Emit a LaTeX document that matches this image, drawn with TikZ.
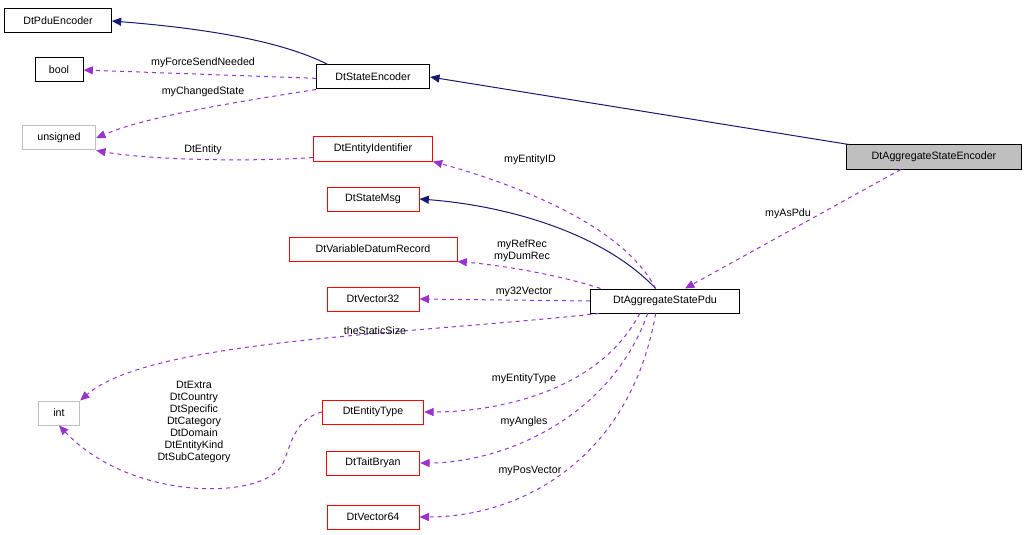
\documentclass[tikz,border=0pt]{standalone}
\usepackage{fontspec}
\setmainfont{Liberation Sans}
\definecolor{inh}{RGB}{25,25,112}
\definecolor{use}{RGB}{154,50,205}
\definecolor{redb}{RGB}{255,0,0}
\definecolor{grayb}{RGB}{191,191,191}
\tikzset{every picture/.style={line width=0.75pt}}
\tikzset{
  cls/.style={draw=black,fill=white,inner sep=0pt,minimum height=18pt,font=\fontsize{8}{9}\selectfont},
  ext/.style={cls,draw=redb},
  prim/.style={cls,draw=grayb},
  inherit/.style={draw=inh,-{Triangle[length=7pt,width=6pt]}},
  member/.style={draw=use,dashed,-{Triangle[length=7pt,width=6pt]}},
  lbl/.style={font=\fontsize{8}{9}\selectfont,inner sep=0pt,align=center}
}
\usetikzlibrary{arrows.meta}
\begin{document}
\begin{tikzpicture}[x=0.75pt,y=0.75pt,yscale=-1,xscale=1]
\useasboundingbox (0,0) rectangle (1029,535);

% classes
\node[cls,minimum width=80pt] (pduenc) at (58,21) {DtPduEncoder};
\node[cls,minimum width=36pt] (bool) at (59,70) {bool};
\node[prim,minimum width=55pt] (unsgn) at (59,138) {unsigned};
\node[prim,minimum width=31pt] (int) at (59,413) {int};
\node[cls,minimum width=85pt] (stenc) at (373,77) {DtStateEncoder};
\node[ext,minimum width=89pt] (entid) at (373,149) {DtEntityIdentifier};
\node[ext,minimum width=69pt] (stmsg) at (373,199) {DtStateMsg};
\node[ext,minimum width=126pt] (vdr) at (373,249) {DtVariableDatumRecord};
\node[ext,minimum width=69pt] (vec32) at (373,299) {DtVector32};
\node[ext,minimum width=76pt] (enttype) at (373,412) {DtEntityType};
\node[ext,minimum width=70pt] (tait) at (373,463) {DtTaitBryan};
\node[ext,minimum width=69pt] (vec64) at (373,517) {DtVector64};
\node[cls,fill=grayb,minimum width=131pt] (aggenc) at (934,157) {DtAggregateStateEncoder};
\node[cls,minimum width=112pt] (aggpdu) at (665,301) {DtAggregateStatePdu};

% inheritance
\draw[inherit] ([xshift=9pt]stenc.north west) .. controls (280,40) and (200,28) .. (pduenc.east);
\draw[inherit] ([xshift=2pt]aggenc.north west) -- (stenc.east);
\draw[inherit] ([xshift=-7pt]aggpdu.north) .. controls (600,230) and (500,205) .. (stmsg.east);

% members
\draw[member] ([yshift=1pt]stenc.west) -- (bool.east);
\draw[member] (stenc.south west) .. controls (250,100) and (150,115) .. (unsgn.east);
\draw[member] ([yshift=-3pt]entid.south west) .. controls (250,162) and (150,160) .. (unsgn.south east);
\draw[member] ([xshift=-7pt]aggpdu.north) .. controls (620,220) and (500,180) .. (entid.south east);
\draw[member] ([xshift=8pt]aggpdu.north west) .. controls (560,275) and (500,265) .. (vdr.south east);
\draw[member] (aggpdu.west) -- (vec32.east);
\draw[member] ([xshift=7pt]aggpdu.south west) .. controls (400,335) and (150,340) .. (int.north east);
\draw[member] ([xshift=-19pt]aggpdu.south) .. controls (600,390) and (500,412) .. (enttype.east);
\draw[member] ([xshift=-13pt]aggpdu.south) .. controls (610,420) and (500,463) .. (tait.east);
\draw[member] ([xshift=-7pt]aggpdu.south) .. controls (630,460) and (520,517) .. (vec64.east);
\draw[member] (enttype.west) .. controls (290,420) and (290,455) .. (280,468) .. controls (255,500) and (130,500) .. (int.south);
\draw[member] ([xshift=-25pt]aggenc.south) -- ([xshift=15pt]aggpdu.north);

% labels
\node[lbl] (l1) at (203,63) {myForceSendNeeded};
\node[lbl] (l2) at (203,92) {myChangedState};
\node[lbl] (l3) at (203,150) {DtEntity};
\node[lbl] (l4) at (530,160) {myEntityID};
\node[lbl] (l5) at (522,251) {myRefRec\\myDumRec};
\node[lbl] (l6) at (524,292) {my32Vector};
\node[lbl] (l7) at (375,331) {theStaticSize};
\node[lbl] (l8) at (524,379) {myEntityType};
\node[lbl] (l9) at (524,422) {myAngles};
\node[lbl] (l10) at (530,471) {myPosVector};
\node[lbl] (l11) at (788,214) {myAsPdu};
\node[lbl] (l12) at (194,422) {DtExtra\\DtCountry\\DtSpecific\\DtCategory\\DtDomain\\DtEntityKind\\DtSubCategory};
\end{tikzpicture}
\end{document}
